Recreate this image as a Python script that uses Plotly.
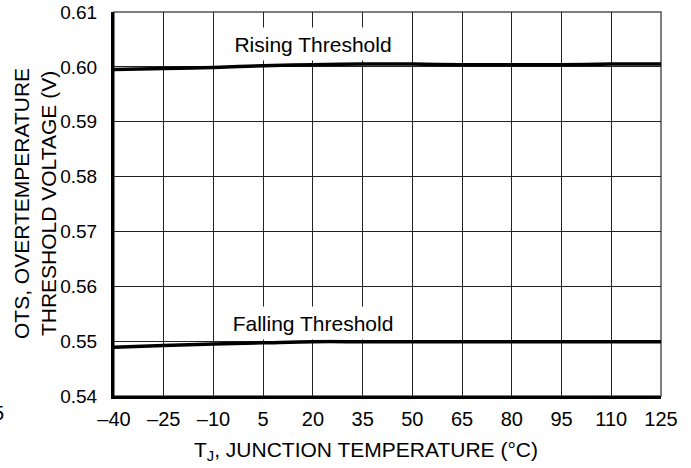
import plotly.graph_objects as go

temps = [-40, -25, -10, 5, 20, 35, 50, 65, 80, 95, 110, 125]
rising = [0.5995, 0.5997, 0.5999, 0.6002, 0.6004, 0.6005, 0.6005, 0.6004, 0.6004, 0.6004, 0.6005, 0.6005]
falling = [0.5489, 0.5492, 0.5495, 0.5497, 0.5499, 0.5499, 0.5499, 0.5499, 0.5499, 0.5499, 0.5499, 0.5499]

x_tickvals = [-40, -25, -10, 5, 20, 35, 50, 65, 80, 95, 110, 125]
x_ticktext = ["\u201340", "\u201325", "\u201310", "5", "20", "35", "50", "65", "80", "95", "110", "125"]
y_tickvals = [0.54, 0.55, 0.56, 0.57, 0.58, 0.59, 0.60, 0.61]
y_ticktext = ["0.54", "0.55", "0.56", "0.57", "0.58", "0.59", "0.60", "0.61"]

FONT = "Liberation Sans, Arial, Helvetica, sans-serif"
W, H = 691, 468
L, R, T, B = 114, 30, 12, 72
PW, PH = W - L - R, H - T - B

fig = go.Figure()
fig.add_trace(go.Scatter(x=temps, y=rising, mode="lines", line=dict(color="black", width=3.5, shape="spline"),
                         showlegend=False, hoverinfo="skip"))
fig.add_trace(go.Scatter(x=temps, y=falling, mode="lines", line=dict(color="black", width=3.5, shape="spline"),
                         showlegend=False, hoverinfo="skip"))

# frame (top/right)
fig.add_shape(type="rect", xref="paper", yref="paper", x0=0, y0=0, x1=1, y1=1,
              line=dict(color="#555", width=1.5), layer="below")

ann_font = dict(family=FONT, size=21, color="black")
fig.add_annotation(x=20, y=0.6041, text="Rising Threshold", showarrow=False, font=ann_font,
                   bgcolor="white", borderpad=3, width=168, height=26,
                   xanchor="center", yanchor="middle")
fig.add_annotation(x=20, y=0.55326, text="Falling Threshold", showarrow=False, font=ann_font,
                   bgcolor="white", borderpad=3, width=168, height=26,
                   xanchor="center", yanchor="middle")

# axis titles
fig.add_annotation(xref="paper", yref="paper", x=(365.5 - L) / PW, y=-(451 - (T + PH)) / PH,
                   text="T<sub>J</sub>, JUNCTION TEMPERATURE (\u00b0C)", showarrow=False,
                   font=ann_font, xanchor="center", yanchor="middle")
fig.add_annotation(xref="paper", yref="paper", x=(35 - L) / PW, y=0.5,
                   text="OTS, OVERTEMPERATURE<br>THRESHOLD VOLTAGE (V)", showarrow=False,
                   font=ann_font, textangle=-90, xanchor="center", yanchor="middle", align="center")
# stray cropped label at left edge
fig.add_annotation(xref="paper", yref="paper", x=(6 - L) / PW, y=-(413 - (T + PH)) / PH,
                   text="5", showarrow=False, font=dict(family=FONT, size=20, color="black"),
                   xanchor="right", yanchor="middle")

fig.update_xaxes(range=[-40, 125], tickvals=x_tickvals, ticktext=x_ticktext,
                 showgrid=True, gridcolor="#222", gridwidth=1,
                 showline=True, linecolor="black", linewidth=3, ticks="",
                 ticklabelstandoff=3, zeroline=False, automargin=False,
                 tickfont=dict(family=FONT, size=20, color="black"))
fig.update_yaxes(range=[0.54, 0.61], tickvals=y_tickvals, ticktext=y_ticktext,
                 showgrid=True, gridcolor="#222", gridwidth=1,
                 showline=True, linecolor="black", linewidth=3, ticks="",
                 ticklabelstandoff=10, zeroline=False, automargin=False,
                 tickfont=dict(family=FONT, size=19, color="black"))

fig.update_layout(width=W, height=H, margin=dict(l=L, r=R, t=T, b=B, autoexpand=False),
                  plot_bgcolor="white", paper_bgcolor="white", showlegend=False)

fig.write_html("out.html", config={"displayModeBar": False, "staticPlot": True},
               post_script="document.body.style.margin='0';document.body.style.overflow='hidden';")
